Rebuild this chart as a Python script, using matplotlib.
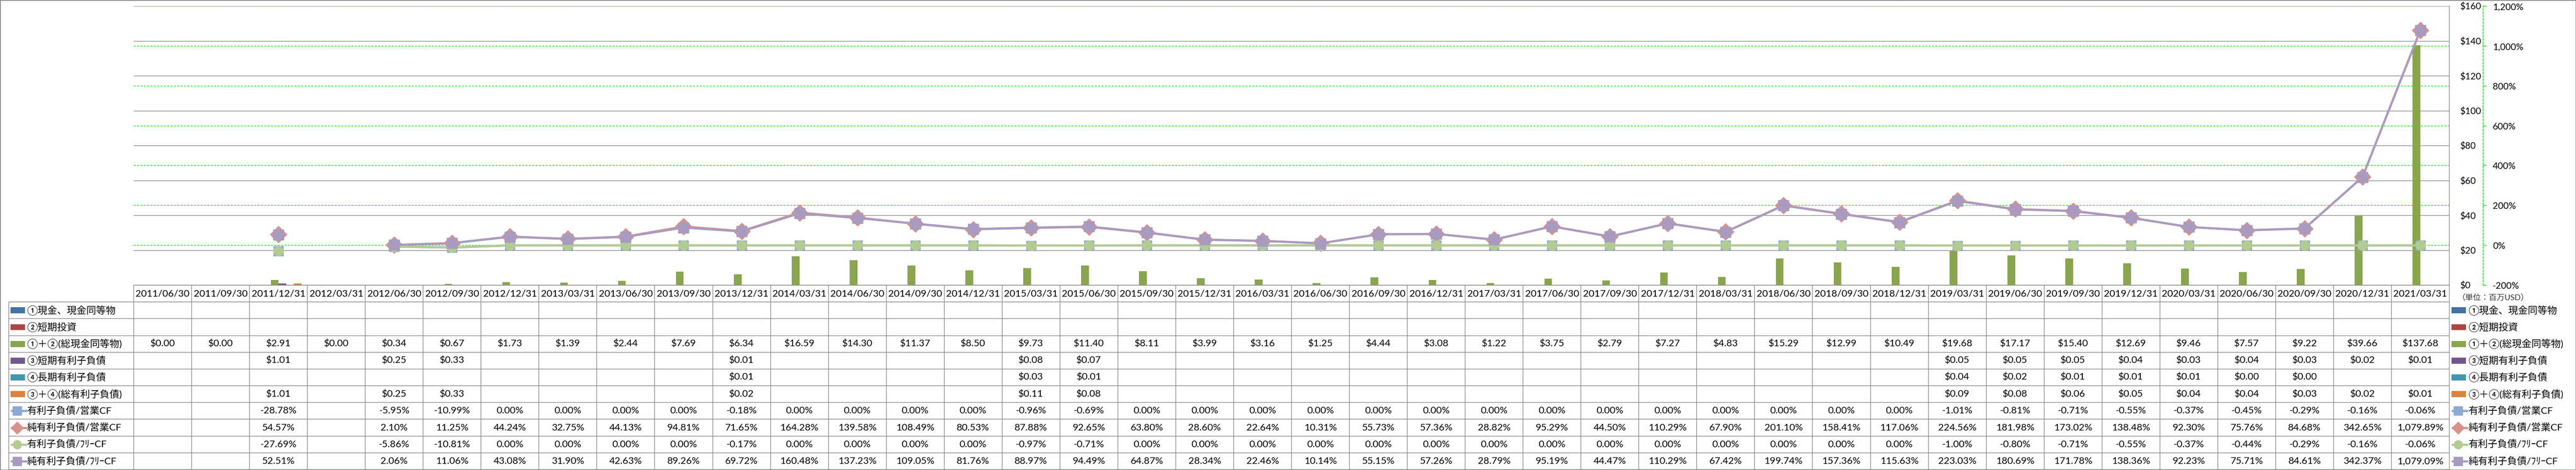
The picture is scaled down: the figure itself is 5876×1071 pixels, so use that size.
import numpy as np
import matplotlib.pyplot as plt
from matplotlib.patches import Rectangle

plt.rcParams['font.family'] = ['Lato', 'Noto Sans CJK JP', 'DejaVu Sans']

# --- Data (単位: 百万USD / %) ---
N = None
dates = ["2011/06/30", "2011/09/30", "2011/12/31", "2012/03/31", "2012/06/30", "2012/09/30",
         "2012/12/31", "2013/03/31", "2013/06/30", "2013/09/30", "2013/12/31", "2014/03/31",
         "2014/06/30", "2014/09/30", "2014/12/31", "2015/03/31", "2015/06/30", "2015/09/30",
         "2015/12/31", "2016/03/31", "2016/06/30", "2016/09/30", "2016/12/31", "2017/03/31",
         "2017/06/30", "2017/09/30", "2017/12/31", "2018/03/31", "2018/06/30", "2018/09/30",
         "2018/12/31", "2019/03/31", "2019/06/30", "2019/09/30", "2019/12/31", "2020/03/31",
         "2020/06/30", "2020/09/30", "2020/12/31", "2021/03/31"]

cash = [N] * 40          # ①現金、現金同等物
short_inv = [N] * 40     # ②短期投資
total_cash = [0.00, 0.00, 2.91, 0.00, 0.34, 0.67, 1.73, 1.39, 2.44, 7.69, 6.34, 16.59,
              14.30, 11.37, 8.50, 9.73, 11.40, 8.11, 3.99, 3.16, 1.25, 4.44, 3.08, 1.22,
              3.75, 2.79, 7.27, 4.83, 15.29, 12.99, 10.49, 19.68, 17.17, 15.40, 12.69, 9.46,
              7.57, 9.22, 39.66, 137.68]
short_debt = [N, N, 1.01, N, 0.25, 0.33, N, N, N, N, 0.01, N,
              N, N, N, 0.08, 0.07, N, N, N, N, N, N, N,
              N, N, N, N, N, N, N, 0.05, 0.05, 0.05, 0.04, 0.03,
              0.04, 0.03, 0.02, 0.01]
long_debt = [N, N, N, N, N, N, N, N, N, N, 0.01, N,
             N, N, N, 0.03, 0.01, N, N, N, N, N, N, N,
             N, N, N, N, N, N, N, 0.04, 0.02, 0.01, 0.01, 0.01,
             0.00, 0.00, N, N]
total_debt = [N, N, 1.01, N, 0.25, 0.33, N, N, N, N, 0.02, N,
              N, N, N, 0.11, 0.08, N, N, N, N, N, N, N,
              N, N, N, N, N, N, N, 0.09, 0.08, 0.06, 0.05, 0.04,
              0.04, 0.03, 0.02, 0.01]

debt_opcf = [N, N, -28.78, N, -5.95, -10.99, 0, 0, 0, 0, -0.18, 0,
             0, 0, 0, -0.96, -0.69, 0, 0, 0, 0, 0, 0, 0,
             0, 0, 0, 0, 0, 0, 0, -1.01, -0.81, -0.71, -0.55, -0.37,
             -0.45, -0.29, -0.16, -0.06]
net_debt_opcf = [N, N, 54.57, N, 2.10, 11.25, 44.24, 32.75, 44.13, 94.81, 71.65, 164.28,
                 139.58, 108.49, 80.53, 87.88, 92.65, 63.80, 28.60, 22.64, 10.31, 55.73, 57.36, 28.82,
                 95.29, 44.50, 110.29, 67.90, 201.10, 158.41, 117.06, 224.56, 181.98, 173.02, 138.48, 92.30,
                 75.76, 84.68, 342.65, 1079.89]
debt_fcf = [N, N, -27.69, N, -5.86, -10.81, 0, 0, 0, 0, -0.17, 0,
            0, 0, 0, -0.97, -0.71, 0, 0, 0, 0, 0, 0, 0,
            0, 0, 0, 0, 0, 0, 0, -1.00, -0.80, -0.71, -0.55, -0.37,
            -0.44, -0.29, -0.16, -0.06]
net_debt_fcf = [N, N, 52.51, N, 2.06, 11.06, 43.08, 31.90, 42.63, 89.26, 69.72, 160.48,
                137.23, 109.05, 81.76, 88.97, 94.49, 64.87, 28.34, 22.46, 10.14, 55.15, 57.26, 28.79,
                95.19, 44.47, 110.29, 67.42, 199.74, 157.36, 115.63, 223.03, 180.69, 171.78, 138.36, 92.23,
                75.71, 84.61, 342.37, 1079.09]

bar_names = ["①現金、現金同等物", "②短期投資", "①＋②(総現金同等物)",
             "③短期有利子負債", "④長期有利子負債", "③＋④(総有利子負債)"]
bar_values = [cash, short_inv, total_cash, short_debt, long_debt, total_debt]
bar_colors = ["#4572A7", "#AA4643", "#89A54E", "#71588F", "#4198AF", "#DB843D"]

line_names = ["有利子負債/営業CF", "純有利子負債/営業CF", "有利子負債/ﾌﾘｰCF", "純有利子負債/ﾌﾘｰCF"]
line_values = [debt_opcf, net_debt_opcf, debt_fcf, net_debt_fcf]
line_colors = ["#8EA8D4", "#D9918C", "#B3CB91", "#A99BC0"]
line_markers = ["s", "D", "o", "s"]
line_msizes = [16, 19, 16, 17]

# --- Layout (pixels of the 5876x1071 canvas) ---
W, H, DPI = 5876, 1071, 100
plot_l, plot_r, plot_t, plot_b, tab_b = 305, 5587, 14, 650, 1070
col_px = (plot_r - plot_l) / len(dates)
grid_gray = "#8C8C8C"
green = "#00EE00"

fig = plt.figure(figsize=(W / DPI, H / DPI), dpi=DPI)
rect = [plot_l / W, 1 - plot_b / H, (plot_r - plot_l) / W, (plot_b - plot_t) / H]

ax = fig.add_axes(rect)       # bars, $ axis
ax_g = ax.twinx()             # green % gridlines (behind bars)
ax2 = ax.twinx()              # ratio lines, % axis
ax_g.set_zorder(0)
ax.set_zorder(1)
ax2.set_zorder(2)
ax.patch.set_visible(False)
ax2.patch.set_visible(False)

x = np.arange(len(dates))
bw = 0.8 / len(bar_values)

# bars
for k, (vals, color) in enumerate(zip(bar_values, bar_colors)):
    xs = [i + (k - 2.5) * bw for i, v in enumerate(vals) if v is not None]
    hs = [v for v in vals if v is not None]
    if hs:
        ax.bar(xs, hs, width=bw, color=color, linewidth=0)

ax.set_xlim(-0.5, len(dates) - 0.5)
ax.set_ylim(0, 160)
ax.set_xticks([])
ax.set_yticks(np.arange(0, 161, 20))
ax.set_yticklabels([f"${v}" for v in range(0, 161, 20)])
ax.yaxis.tick_right()
ax.tick_params(axis="y", length=0, pad=17, labelsize=15)
ax.set_axisbelow(True)
ax.yaxis.grid(True, color=grid_gray, lw=1.1)
for s in ["left", "top"]:
    ax.spines[s].set_visible(False)
for s in ["right", "bottom"]:
    ax.spines[s].set_color(grid_gray)
    ax.spines[s].set_linewidth(1.1)

# green dashed % gridlines
ax_g.set_ylim(-200, 1200)
ax_g.set_yticks(np.arange(-200, 1201, 200))
ax_g.yaxis.grid(True, color=green, lw=1.1, linestyle=(0, (3, 2)))
ax_g.tick_params(left=False, right=False, labelleft=False, labelright=False)
for s in ax_g.spines.values():
    s.set_visible(False)

# ratio lines
for vals, color, mk, ms in zip(line_values, line_colors, line_markers, line_msizes):
    ys = np.array([np.nan if v is None else v for v in vals], dtype=float)
    ax2.plot(x, ys, color=color, lw=3.5, marker=mk, markersize=ms,
             markerfacecolor=color, markeredgecolor=color, solid_joinstyle="round")

ax2.set_ylim(-200, 1200)
pct_ticks = np.arange(-200, 1201, 200)
ax2.set_yticks(pct_ticks)
ax2.set_yticklabels([f"{v:,}%" for v in pct_ticks])
ax2.tick_params(axis="y", direction="out", length=5.8, width=1.1, color=green,
                pad=10, labelsize=15)
ax2.get_yticklabels()[0].set_color("red")
for s in ["left", "top", "bottom"]:
    ax2.spines[s].set_visible(False)
ax2.spines["right"].set_position(("outward", 77 * 72 / DPI))
ax2.spines["right"].set_color(green)
ax2.spines["right"].set_linestyle((0, (3, 2)))
ax2.spines["right"].set_linewidth(1.1)

# --- Data table ---
tab = fig.add_axes([plot_l / W, 1 - tab_b / H, (plot_r - plot_l) / W, (tab_b - plot_b) / H])
n_rows = 1 + len(bar_values) + len(line_values)
tab.set_xlim(-0.5, len(dates) - 0.5)
tab.set_ylim(n_rows, 0)
tab.axis("off")

left_col = -0.5 - (plot_l - 20) / col_px
tab.vlines(np.arange(-0.5, len(dates), 1), 0, n_rows, color=grid_gray, lw=1.1, clip_on=False)
tab.vlines(left_col, 1, n_rows, color=grid_gray, lw=1.1, clip_on=False)
tab.hlines(np.arange(1, n_rows + 1), left_col, len(dates) - 0.5, color=grid_gray, lw=1.1, clip_on=False)

for i, d in enumerate(dates):
    tab.text(i, 0.5, d, ha="center", va="center", fontsize=16)

row_vals = [(v, "$") for v in bar_values] + [(v, "%") for v in line_values]
for r, (vals, kind) in enumerate(row_vals):
    for i, v in enumerate(vals):
        if v is None:
            continue
        s = f"${v:,.2f}" if kind == "$" else f"{v:,.2f}%"
        tab.text(i, r + 1.5, s, ha="center", va="center", fontsize=16)


def legend_key(x0, y, kind, color, marker=None, ms=12):
    if kind == "bar":
        tab.add_patch(Rectangle((x0, y - 0.18), 33 / col_px, 0.36, color=color,
                                lw=0, clip_on=False))
    else:
        tab.plot([x0, x0 + 38 / col_px], [y, y], color=color, lw=3.5, clip_on=False,
                 solid_capstyle="butt")
        tab.plot([x0 + 15 / col_px], [y], marker=marker, markersize=ms, color=color,
                 clip_on=False)


right_x = -0.5 + (5592 - plot_l) / col_px
names = bar_names + line_names
kinds = ["bar"] * len(bar_names) + ["line"] * len(line_names)
colors = bar_colors + line_colors
markers = [None] * len(bar_names) + line_markers
for r, (name, kind, color, mk) in enumerate(zip(names, kinds, colors, markers)):
    y = r + 1.5
    # row header inside the table
    legend_key(left_col + 4 / col_px, y, kind, color, mk, ms=14)
    tab.text(left_col + 41 / col_px, y, name, ha="left", va="center", fontsize=16, clip_on=False)
    # legend on the right
    legend_key(right_x, y, kind, color, mk, ms=14)
    tab.text(right_x + 38 / col_px, y, name, ha="left", va="center", fontsize=16, clip_on=False)

tab.text(-0.5 + (5605 - plot_l) / col_px, 0.75, "（単位：百万USD）", ha="left", va="center",
         fontsize=13, color="#333333", clip_on=False)

fig.add_artist(Rectangle((0, 0), 1, 1, transform=fig.transFigure, fill=False,
                         edgecolor="#8C8C8C", lw=2))

fig.savefig("out.png", dpi=DPI)
